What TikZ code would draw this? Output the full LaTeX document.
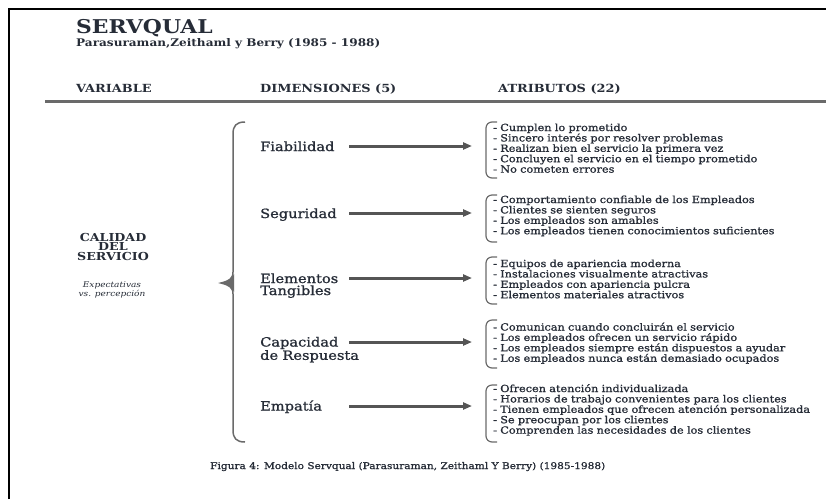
\documentclass[tikz,border=0pt]{standalone}
\usepackage{fontspec}
\setmainfont{DejaVu Serif}[FakeStretch=1.15]
\newfontfamily\seminegra{DejaVu Serif}[FakeStretch=1.15, FakeBold=1.2]
\usetikzlibrary{arrows.meta}
\definecolor{tinta}{HTML}{262C37}
\definecolor{gris}{HTML}{555555}
\definecolor{grisclaro}{HTML}{6A6A6A}

\begin{document}
\begin{tikzpicture}[x=1pt, y=-1pt,
  cab/.style = {anchor=base west, inner sep=0, font=\fontsize{11.2}{12}\selectfont\bfseries, text=tinta},
  dim/.style = {anchor=base west, inner sep=0, text width=110pt, align=left, font=\fontsize{12.7}{12}\seminegra, text=tinta},
  attr/.style = {anchor=base west, inner sep=0, text width=340pt, align=left, font=\fontsize{9.8}{10.4}\seminegra, text=tinta},
  flecha/.style = {draw=gris, line width=3pt, -{Triangle[length=9pt,width=7pt]}, shorten >=21pt},
  corchete/.style = {draw=grisclaro, line width=1.2pt, rounded corners=6pt},
  llave/.style = {draw=grisclaro, line width=1.5pt}]
\useasboundingbox (0,0) rectangle (826,499);

% marco y regla
\draw[line width=2.5pt] (9,499) -- (9,9) -- (826,9);
\draw[grisclaro, line width=2.5pt] (45,101.5) -- (826,101.5);

% titulo
\node[anchor=base west, inner sep=0, font=\fontsize{19}{20}\selectfont\bfseries, text=tinta] (titulo) at (76,33) {SERVQUAL};
\node[cab, font=\fontsize{10.5}{12}\selectfont\bfseries] (subtitulo) at (76,46.5) {Parasuraman,Zeithaml y Berry (1985 - 1988)};
\node[cab] (variable) at (76,92.5) {VARIABLE};
\node[cab] (dimensiones) at (260,92.5) {DIMENSIONES (5)};
\node[cab] (atributos) at (498,92.5) {ATRIBUTOS (22)};

% variable
\node[anchor=base, inner sep=0, align=center, font=\fontsize{11}{9.7}\selectfont\bfseries, text=tinta] (calidad) at (113,260.5) {CALIDAD\\DEL\\SERVICIO};
\node[anchor=base, inner sep=0, align=center, font=\fontsize{7.8}{9.5}\selectfont\itshape, text=tinta] (expect) at (112,296.5) {Expectativas\\vs. percepción};

% llave grande
\draw[llave] (245,122) .. controls (236,122) and (233,126) .. (233,134) -- (233,272)
  .. controls (233,279) and (229,281) .. (221,283) .. controls (229,285) and (233,287) .. (233,294)
  -- (233,430) .. controls (233,438) and (236,442) .. (245,442);
\fill[grisclaro] (221,283) .. controls (228,281) and (232,279) .. (234,274) -- (234,292)
  .. controls (232,287) and (228,285) .. (221,283) -- cycle;

% dimensiones
\node[dim] (fia) at (260,151) {Fiabilidad};
\node[dim] (seg) at (260,218) {Seguridad};
\node[dim] (ele) at (260,283) {Elementos\\Tangibles};
\node[dim] (cap) at (260,346.5) {Capacidad\\de Respuesta};
\node[dim] (emp) at (260,410.5) {Empatía};

% atributos
\node[attr] (fiaL) at (493,131) {- Cumplen lo prometido\\- Sincero interés por resolver problemas\\- Realizan bien el servicio la primera vez\\- Concluyen el servicio en el tiempo prometido\\- No cometen errores};
\node[attr] (segL) at (493,203) {- Comportamiento confiable de los Empleados\\- Clientes se sienten seguros\\- Los empleados son amables\\- Los empleados tienen conocimientos suficientes};
\node[attr] (eleL) at (493,267) {- Equipos de apariencia moderna\\- Instalaciones visualmente atractivas\\- Empleados con apariencia pulcra\\- Elementos materiales atractivos};
\node[attr] (capL) at (493,330.5) {- Comunican cuando concluirán el servicio\\- Los empleados ofrecen un servicio rápido\\- Los empleados siempre están dispuestos a ayudar\\- Los empleados nunca están demasiado ocupados};
\node[attr] (empL) at (493,392) {- Ofrecen atención individualizada\\- Horarios de trabajo convenientes para los clientes\\- Tienen empleados que ofrecen atención personalizada\\- Se preocupan por los clientes\\- Comprenden las necesidades de los clientes};

% corchetes
\draw[corchete] (497,122) -- (486,122) -- (486,178) -- (497,178);
\draw[corchete] (497,195) -- (486,195) -- (486,242) -- (497,242);
\draw[corchete] (497,257) -- (486,257) -- (486,304) -- (497,304);
\draw[corchete] (497,320) -- (486,320) -- (486,368) -- (497,368);
\draw[corchete] (497,385) -- (486,385) -- (486,442) -- (497,442);

% flechas
\coordinate (fiaP) at (349,146);
\coordinate (segP) at (349,213);
\coordinate (eleP) at (349,278);
\coordinate (capP) at (349,342);
\coordinate (empP) at (349,406);
\draw[flecha] (fiaP) -- (fiaP -| fiaL.west);
\draw[flecha] (segP) -- (segP -| segL.west);
\draw[flecha] (eleP) -- (eleP -| eleL.west);
\draw[flecha] (capP) -- (capP -| capL.west);
\draw[flecha] (empP) -- (empP -| empL.west);

% pie
\node[anchor=base west, inner sep=0, font=\fontsize{9.2}{10}\seminegra, text=tinta] (pie) at (210,469) {Figura 4: Modelo Servqual (Parasuraman, Zeithaml Y Berry) (1985-1988)};
\end{tikzpicture}
\end{document}
